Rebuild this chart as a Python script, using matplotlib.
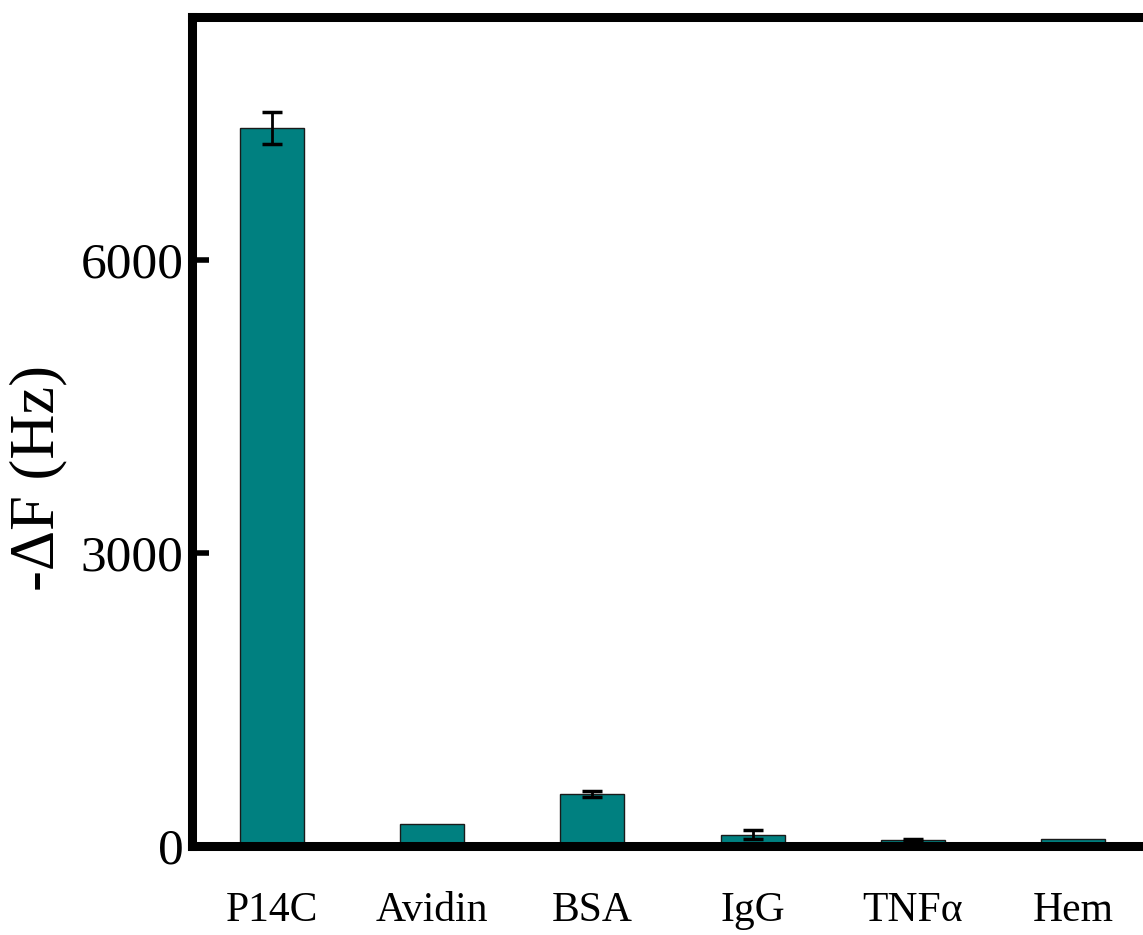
import matplotlib
matplotlib.use("Agg")
import matplotlib.pyplot as plt
import numpy as np

# data
categories = ["P14C", "Avidin", "BSA", "IgG", "TNFα", "Hem"]
values = [7350, 225, 530, 113, 61, 72]
errors = [160, 0, 30, 46, 15, 0]

plt.rcParams["font.family"] = ["Liberation Serif", "DejaVu Serif"]

fig = plt.figure(figsize=(11.43, 9.35), dpi=100)
ax = fig.add_axes([0.168, 0.0952, 0.8408, 0.8861])

x = np.arange(len(categories))
ax.bar(x, values, width=0.4, color="#008080", edgecolor="#1a1a1a", linewidth=1.0,
       zorder=2)
# no error bar drawn where the error is zero
yerr = np.where(np.array(errors) > 0, errors, np.nan)
ax.errorbar(x, values, yerr=yerr, fmt="none",
            ecolor="black", elinewidth=2, capsize=7, capthick=2.5, zorder=3)

ax.set_xlim(-0.5, 5.5)
ax.set_ylim(0, 8480)
ax.set_xticks(x)
ax.set_xticklabels(categories)
ax.set_yticks([0, 3000, 6000])

for side in ["left", "bottom", "top", "right"]:
    ax.spines[side].set_linewidth(6.5)
ax.spines["right"].set_visible(False)

ax.tick_params(axis="y", direction="in", length=12, width=4, labelsize=37, pad=6)
ax.tick_params(axis="x", length=0, labelsize=30, pad=33)

ax.set_ylabel("-ΔF (Hz)", fontsize=45)
ax.yaxis.set_label_coords(-0.13, 0.444)

plt.savefig("out.png", dpi=100)
plt.close()
